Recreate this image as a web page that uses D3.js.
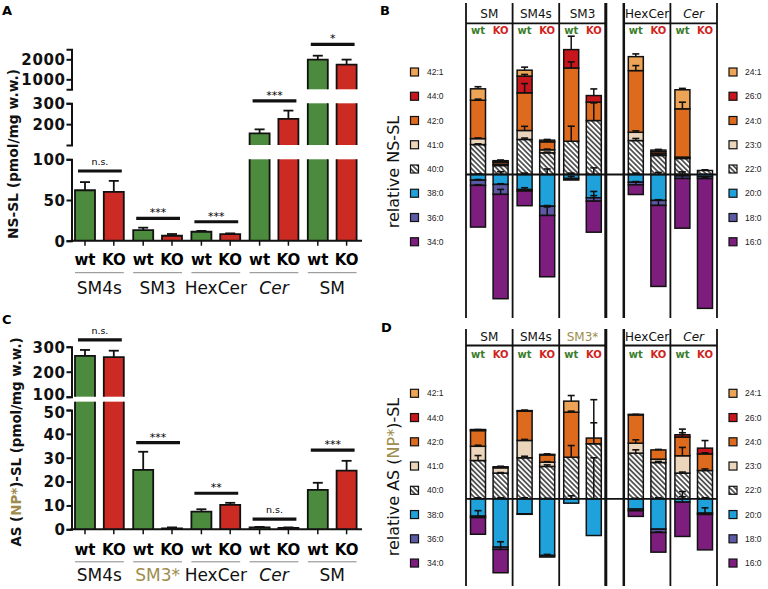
<!DOCTYPE html>
<html><head><meta charset="utf-8">
<script src="https://cdn.jsdelivr.net/npm/d3@7"></script>
<style>
body{margin:0;background:#fff;}
svg{display:block;}
</style></head><body>
<svg id="chart" width="768" height="589"></svg>
<script>
// ================= DATA =================
// Panels A / C : absolute amounts
const groupsA = ["SM4s","SM3","HexCer","Cer","SM"];
const groupsC = ["SM4s","SM3*","HexCer","Cer","SM"];
const genotypes = ["wt","KO"];

const nsWt    = [62, 13, 11, 156, 1980];
const nsKo    = [60, 6.1, 8.2, 225, 1735];
const nsWtErr = [10, 3, 1, 19, 200];
const nsKoErr = [13.5, 2.1, 0.8, 40, 250];
const nsSig      = ["n.s.","***","***","***","*"];
const nsSigLevel = [85.6, 27.5, 23.3, 312, 2750];
const nsTicksLow = [0, 50, 100];
const nsTicksMid = [200, 300];
const nsTicksTop = [1000, 2000];

const asWt    = [263, 24.9, 7.4, 0.8, 16.5];
const asKo    = [258, 0.4, 10.2, 0.6, 24.6];
const asWtErr = [24, 7.6, 1, 0.2, 3];
const asKoErr = [26, 0.4, 0.9, 0.2, 4.1];
const asSig      = ["n.s.","***","**","n.s.","***"];
const asSigLevel = [327, 36.3, 15.1, 4.3, 33.2];
const asTicksLow = [0, 10, 20, 30, 40, 50];
const asTicksTop = [100, 200, 300];

// Panels B / D : relative species composition (%), bars: SM wt,KO, SM4s wt,KO, SM3 wt,KO, HexCer wt,KO, Cer wt,KO
const catsB = ["SM","SM4s","SM3","HexCer","Cer"];
const catsD = ["SM","SM4s","SM3*","HexCer","Cer"];
const speciesL = ["42:1","44:0","42:0","41:0","40:0","38:0","36:0","34:0"];
const speciesR = ["24:1","26:0","24:0","23:0","22:0","20:0","18:0","16:0"];
const stackKeys = ["40:0","41:0","42:0","44:0","42:1","38:0","36:0","34:0"];

const b40  = [21.7, 6.5, 25.4, 15.7, 24.1, 39.1, 24.6, 13.8, 11.6, 2.9];
const b41  = [4.3, 1.0, 6.5, 2.2, 0, 0, 6.0, 1.2, 1.0, 0];
const b42  = [27.8, 1.5, 27.3, 5.8, 53.1, 13.3, 44.7, 1.5, 35.0, 0];
const b44  = [0, 0.5, 12.1, 0, 13.3, 4.8, 0, 0, 0, 0];
const b421 = [8.3, 0.5, 4.3, 1.2, 0, 0, 10.1, 1.2, 13.8, 0];
const b38  = [-4.1, -7.2, -10.9, -23.0, -2.9, -16.9, -5.6, -18.8, -1.0, -1.5];
const b36  = [-3.8, -7.2, -1.1, -6.7, -1.1, -2.4, -1.9, -3.6, -1.9, -1.5];
const b34  = [-30.2, -75.6, -10.6, -44.4, 0, -22.5, -7.0, -58.7, -36.0, -94.0];
const be40  = [0.5, 0.5, 1, 0.5, 10.9, 12.8, 1.5, 0.5, 0.5, 0.5];
const be41  = [0.5, 0, 3, 0.5, 0, 0, 1, 0, 0, 0];
const be42  = [0.8, 0.5, 6.7, 0.5, 4.4, 0, 3.6, 0.5, 4.8, 0];
const be44  = [0, 0, 1.2, 0, 9.7, 4.8, 0, 0, 0, 0];
const be421 = [1.5, 0.5, 2.2, 0.5, 0, 0, 2, 0.5, 1, 0];
const be38  = [0.5, 2, 1, 4, 1, 4.8, 1, 1.5, 0, 0];
const be36  = [0.5, 0.5, 0, 0.5, 1.5, 4.6, 0, 0.5, 0, 0];
const be34  = [0.5, 3.6, 2.4, 6.2, 0, 4, 2.4, 4.1, 4.8, 1];

const d40  = [36.8, 24.7, 39.4, 31.1, 40.0, 52.9, 43.9, 34.9, 24.7, 27.2];
const d41  = [13.7, 5.1, 16.7, 4.1, 0, 0, 9.6, 3.2, 16.7, 0];
const d42  = [15.1, 1.0, 28.2, 7.0, 43.3, 5.5, 27.2, 8.9, 18.0, 16.0];
const d44  = [0.5, 0, 0.5, 0.5, 0, 0, 0.5, 0, 2.2, 5.5];
const d421 = [0.5, 0, 0, 0, 10.6, 0, 0, 0, 0, 0];
const d38  = [-16.7, -46.5, -14.4, -54.5, -4.2, -35.3, -9.9, -29.2, -3.2, -13.8];
const d36  = [-1.4, -2.2, -0.5, -1.5, 0, 0, -1.6, -3.2, 0, -1.3];
const d34  = [-16.0, -22.4, 0, 0, 0, 0, -5.4, -18.9, -33.0, -34.0];
const de40  = [4.8, 0.5, 1.5, 1.5, 11.2, 20.2, 3.2, 1, 1, 1.5];
const de41  = [1, 1, 1, 0.5, 0, 0, 3.2, 0, 8, 0];
const de42  = [1, 0.5, 1, 1, 1, 36.9, 0.5, 0.5, 4.1, 1];
const de44  = [0, 0, 0, 0, 0, 0, 0, 0, 5.4, 7.3];
const de421 = [0, 0, 0, 0, 5.4, 0, 0, 0, 0, 0];
const de38  = [1, 1, 1, 0.5, 2.9, 39.4, 0.5, 1, 2, 1];
const de36  = [0, 0, 0, 1, 0, 0, 0, 0, 0, 0];
const de34  = [6.7, 7.4, 0, 0, 0, 0, 0.5, 0.5, 10.2, 6.4];

// ================= STYLE =================
const FONT = "'DejaVu Sans', sans-serif";
const SMALL = "'Liberation Sans', Arial, sans-serif";
const GREEN = "#4c8a3d", RED = "#cc2b24", OLIVE = "#9e8c4e";
const HEAD_WT = "#3b7d2c", HEAD_KO = "#d1231b";
const speciesColor = {"42:1":"#eda456","44:0":"#c8161d","42:0":"#de6a1e","41:0":"#ebd5bb",
  "40:0":"url(#hatch)","38:0":"#1fa2dc","36:0":"#5c5aa5","34:0":"#7d1e7e"};

const svg = d3.select("#chart");
const defs = svg.append("defs");
const pat = defs.append("pattern").attr("id","hatch").attr("patternUnits","userSpaceOnUse")
  .attr("width",3.6).attr("height",3.6).attr("patternTransform","rotate(-45)");
pat.append("rect").attr("width",3.6).attr("height",3.6).attr("fill","#fff");
pat.append("line").attr("x1",1.8).attr("y1",0).attr("x2",1.8).attr("y2",3.6)
  .attr("stroke","#111").attr("stroke-width",1.3);

// panel letters
[["A",2,15],["B",380,15],["C",2,324],["D",381,332]].forEach(([t,x,y])=>
  svg.append("text").attr("x",x).attr("y",y).text(t)
    .attr("font-family",FONT).attr("font-weight","bold").attr("font-size",13));

// ================= BAR PANELS (A, C) =================
function barPanel(cfg){
  const g = svg.append("g");
  const axisX = 71.5;
  const segs = cfg.segs.map(s=>({...s, scale:d3.scaleLinear().domain(s.domain).range(s.range)}));
  const yOf = v => { let s = segs[0]; segs.forEach(q=>{ if(q.domain[0] <= v) s = q; }); return s.scale(v); };

  const xGroup = d3.scaleBand().domain(cfg.groups).range([72, 359.6]).paddingInner(0.1615).paddingOuter(0.0515);
  const xGeno = d3.scaleBand().domain(genotypes).range([0, xGroup.bandwidth()]).paddingInner(0.3056);
  const bw = xGeno.bandwidth();

  // bars
  cfg.groups.forEach((grp,i)=>{
    genotypes.forEach((ge,j)=>{
      const v = j ? cfg.ko[i] : cfg.wt[i];
      const e = j ? cfg.koErr[i] : cfg.wtErr[i];
      const x0 = xGroup(grp) + xGeno(ge);
      const col = j ? RED : GREEN;
      segs.forEach(s=>{
        const lo = s.domain[0], hi = s.clipHi !== undefined ? s.clipHi : s.domain[1];
        if (v <= lo) return;
        const top = Math.min(v, hi);
        const yT = s.scale(top), yB = s.scale(lo);
        g.append("rect").attr("x",x0).attr("y",yT).attr("width",bw).attr("height",yB-yT).attr("fill",col);
        const isTop = v <= hi;
        const p = d3.path();
        p.moveTo(x0, yB); p.lineTo(x0, yT);
        if (isTop) p.lineTo(x0+bw, yT); else p.moveTo(x0+bw, yT);
        p.lineTo(x0+bw, yB);
        g.append("path").attr("d",p.toString()).attr("fill","none").attr("stroke","#111").attr("stroke-width",1.8);
      });
      // error bar
      const yv = yOf(v), ye = yOf(v+e), cx = x0+bw/2;
      g.append("line").attr("x1",cx).attr("x2",cx).attr("y1",yv).attr("y2",ye).attr("stroke","#111").attr("stroke-width",1.8);
      g.append("line").attr("x1",cx-5).attr("x2",cx+5).attr("y1",ye).attr("y2",ye).attr("stroke","#111").attr("stroke-width",1.8);
      // x tick
      g.append("line").attr("x1",cx).attr("x2",cx).attr("y1",cfg.zeroY).attr("y2",cfg.zeroY+5).attr("stroke","#111").attr("stroke-width",1.5);
      // wt / KO label
      g.append("text").attr("x",cx).attr("y",cfg.zeroY+cfg.genoDy).attr("text-anchor","middle").text(ge)
        .attr("font-family",FONT).attr("font-weight","bold").attr("font-size",15);
    });
    // significance
    const xl = xGroup(grp) + 3, xr = xGroup(grp) + xGroup.bandwidth() - 2;
    const ys = yOf(cfg.sigLevel[i]);
    g.append("line").attr("x1",xl).attr("x2",xr).attr("y1",ys).attr("y2",ys).attr("stroke","#111").attr("stroke-width",3.2);
    g.append("text").attr("x",(xl+xr)/2).attr("y", cfg.sig[i]==="n.s." ? ys-6 : ys-2).attr("text-anchor","middle").text(cfg.sig[i])
      .attr("font-family",FONT).attr("font-size", cfg.sig[i]==="n.s." ? 9.5 : 11);
    // underline + group label
    const ux0 = xGroup(grp), ux1 = xGroup(grp)+xGroup.bandwidth();
    g.append("line").attr("x1",ux0).attr("x2",ux1).attr("y1",cfg.zeroY+cfg.ulDy).attr("y2",cfg.zeroY+cfg.ulDy)
      .attr("stroke","#888").attr("stroke-width",1);
    g.append("text").attr("x",(ux0+ux1)/2).attr("y",cfg.zeroY+cfg.grpDy).attr("text-anchor","middle").text(grp)
      .attr("font-family",FONT).attr("font-size",17)
      .attr("fill", grp==="SM3*" ? OLIVE : "#111")
      .attr("font-style", grp==="Cer" ? "italic" : "normal");
  });

  // x axis line
  g.append("line").attr("x1",axisX-1).attr("x2",362).attr("y1",cfg.zeroY).attr("y2",cfg.zeroY).attr("stroke","#111").attr("stroke-width",2);

  // y axis segments
  segs.forEach(s=>{
    const ax = d3.axisLeft(s.scale).tickValues(s.ticks).tickSize(5).tickSizeOuter(5).tickPadding(1).tickFormat(d3.format("d"));
    const ag = g.append("g").attr("transform",`translate(${axisX},0)`).call(ax);
    ag.select(".domain").attr("stroke","#111").attr("stroke-width",2);
    ag.selectAll(".tick line").attr("stroke","#111").attr("stroke-width",2);
    ag.selectAll(".tick text").attr("font-family",FONT).attr("font-weight","bold").attr("font-size",15)
      .attr("letter-spacing","0.6px").attr("fill","#111")
      .attr("dy", d => (0.36*15 + ((s.labelShift && s.labelShift[d]) || 0)) + "px");
  });

  // y label
  const yl = g.append("text").attr("transform",`translate(${cfg.ylabX},${cfg.ylabY}) rotate(-90)`)
    .attr("text-anchor","middle").attr("font-family",FONT).attr("font-weight","bold").attr("font-size",cfg.ylabSize);
  cfg.ylab.forEach(([t,c])=> yl.append("tspan").text(t).attr("fill",c));
}

barPanel({
  groups: groupsA, wt: nsWt, ko: nsKo, wtErr: nsWtErr, koErr: nsKoErr, sig: nsSig, sigLevel: nsSigLevel,
  segs: [
    {domain:[0,100], range:[240.7,159.3], ticks: nsTicksLow},
    {domain:[100,300], range:[145,103.3], ticks: nsTicksMid},
    {domain:[500,2500], range:[89.3,49.3], ticks: nsTicksTop}
  ],
  zeroY: 240.7, genoDy: 24.5, ulDy: 32, grpDy: 53,
  ylab: [["NS-SL (pmol/mg w.w.)","#111"]], ylabX: 18, ylabY: 154, ylabSize: 13.8
});

barPanel({
  groups: groupsC, wt: asWt, ko: asKo, wtErr: asWtErr, koErr: asKoErr, sig: asSig, sigLevel: asSigLevel,
  segs: [
    {domain:[0,50], range:[529.3,410], ticks: asTicksLow, clipHi: 53.5, labelShift: {50: 2.5}},
    {domain:[100,300], range:[396.7,346.7], ticks: asTicksTop, labelShift: {100: -2.5}}
  ],
  zeroY: 529.3, genoDy: 25.5, ulDy: 32.5, grpDy: 52,
  ylab: [["AS (","#111"],["NP*",OLIVE],[")-SL (pmol/mg w.w.)","#111"]], ylabX: 21, ylabY: 442, ylabSize: 13.4
});

// ================= STACKED PANELS (B, D) =================
function stackPanel(cfg){
  const g = svg.append("g");
  const colW = 46.6, left0 = 466, gap = 18;
  const colBand = d3.scaleBand().domain(cfg.cats).range([0, 5*colW]);
  const colLeft = c => left0 + colBand(c) + (cfg.cats.indexOf(c) >= 3 ? gap : 0);
  const genoBand = d3.scaleBand().domain(genotypes).range([0, colW]).paddingInner(0.336).paddingOuter(0.2);
  const bw = genoBand.bandwidth();
  const y = d3.scaleLinear().domain([-100,100]).range([cfg.zeroY + 100*cfg.ppu, cfg.zeroY - 100*cfg.ppu]);

  const rows = d3.range(10).map(i=>{ const r = {}; stackKeys.forEach(k=> r[k] = cfg.vals[k][i]); return r; });
  const series = d3.stack().keys(stackKeys).offset(d3.stackOffsetDiverging)(rows);
  const barX = i => colLeft(cfg.cats[Math.floor(i/2)]) + genoBand(genotypes[i%2]);

  // segments
  series.forEach(s=>{
    s.forEach((d,i)=>{
      if (d[1]-d[0] === 0) return;
      g.append("rect").attr("x",barX(i)).attr("width",bw)
        .attr("y",y(d[1])).attr("height",y(d[0])-y(d[1]))
        .attr("fill",speciesColor[s.key]).attr("stroke","#111").attr("stroke-width",1.5);
    });
  });
  // error bars
  series.forEach(s=>{
    s.forEach((d,i)=>{
      const v = d[1]-d[0], e = cfg.errs[s.key][i];
      if (v === 0 || !e) return;
      const base = v > 0 ? d[1] : d[0];
      const tip = v > 0 ? base + e : base - e;
      const cx = barX(i) + bw/2;
      g.append("line").attr("x1",cx).attr("x2",cx).attr("y1",y(base)).attr("y2",y(tip)).attr("stroke","#111").attr("stroke-width",1.5);
      g.append("line").attr("x1",cx-3.5).attr("x2",cx+3.5).attr("y1",y(tip)).attr("y2",y(tip)).attr("stroke","#111").attr("stroke-width",1.6);
    });
  });

  // frame: verticals
  const xs = [];
  cfg.cats.forEach(c=>{ xs.push(colLeft(c)); xs.push(colLeft(c)+colW); });
  const uniq = Array.from(new Set(xs.map(v=>Math.round(v*10)/10)));
  uniq.forEach(x=>{
    const thick = Math.abs(x-(left0+3*colW))<0.5 ? 3 : (Math.abs(x-(left0+3*colW+gap))<0.5 ? 2.5 : 1.8);
    g.append("line").attr("x1",x).attr("x2",x).attr("y1",cfg.vTop).attr("y2",cfg.vBot).attr("stroke","#111").attr("stroke-width",thick);
  });
  // header separators
  [[left0, left0+3*colW],[left0+3*colW+gap, left0+5*colW+gap]].forEach(([a,b])=>
    g.append("line").attr("x1",a).attr("x2",b).attr("y1",cfg.sepY).attr("y2",cfg.sepY).attr("stroke","#111").attr("stroke-width",1.8));
  // zero line
  g.append("line").attr("x1",left0).attr("x2",left0+5*colW+gap).attr("y1",cfg.zeroY).attr("y2",cfg.zeroY).attr("stroke","#111").attr("stroke-width",1.8);

  // header labels
  cfg.cats.forEach(c=>{
    g.append("text").attr("x",colLeft(c)+colW/2).attr("y",cfg.headY).attr("text-anchor","middle").text(c)
      .attr("font-family",FONT).attr("font-size",12)
      .attr("fill", c==="SM3*" ? OLIVE : "#111").attr("font-style", c==="Cer" ? "italic" : "normal");
    genotypes.forEach((ge,j)=>{
      g.append("text").attr("x",colLeft(c)+genoBand(ge)+bw/2).attr("y",cfg.genoY).attr("text-anchor","middle").text(ge)
        .attr("font-family",FONT).attr("font-weight","bold").attr("font-size",10)
        .attr("fill", j ? HEAD_KO : HEAD_WT);
    });
  });

  // legends
  const legY = d3.scalePoint().domain(speciesL).range([cfg.legY0, cfg.legY0 + 7*24.25]);
  speciesL.forEach((k,i)=>{
    [[410.5, 427, k],[729, 745, speciesR[i]]].forEach(([sx,tx,lab])=>{
      g.append("rect").attr("x",sx).attr("y",legY(k)-4).attr("width",8).attr("height",8)
        .attr("fill",speciesColor[k]).attr("stroke","#111").attr("stroke-width",1.2);
      g.append("text").attr("x",tx).attr("y",legY(k)+3).text(lab)
        .attr("font-family",SMALL).attr("font-size",8.5).attr("fill","#222");
    });
  });

  // y label
  const yl = g.append("text").attr("transform",`translate(399,${cfg.ylabY}) rotate(-90)`)
    .attr("text-anchor","middle").attr("font-family",FONT).attr("font-size",16);
  cfg.ylab.forEach(([t,c])=> yl.append("tspan").text(t).attr("fill",c));
}

stackPanel({
  cats: catsB, zeroY: 174.5, ppu: 1.38, vTop: 3, vBot: 318, sepY: 23.3, headY: 17.5, genoY: 34, legY0: 72,
  vals: {"40:0":b40,"41:0":b41,"42:0":b42,"44:0":b44,"42:1":b421,"38:0":b38,"36:0":b36,"34:0":b34},
  errs: {"40:0":be40,"41:0":be41,"42:0":be42,"44:0":be44,"42:1":be421,"38:0":be38,"36:0":be36,"34:0":be34},
  ylab: [["relative NS-SL","#111"]], ylabY: 172
});

stackPanel({
  cats: catsD, zeroY: 498.8, ppu: 1.04, vTop: 329, vBot: 586, sepY: 345.5, headY: 341, genoY: 357.5, legY0: 393.3,
  vals: {"40:0":d40,"41:0":d41,"42:0":d42,"44:0":d44,"42:1":d421,"38:0":d38,"36:0":d36,"34:0":d34},
  errs: {"40:0":de40,"41:0":de41,"42:0":de42,"44:0":de44,"42:1":de421,"38:0":de38,"36:0":de36,"34:0":de34},
  ylab: [["relative AS (","#111"],["NP*",OLIVE],[")-SL","#111"]], ylabY: 477
});
</script></body></html>
